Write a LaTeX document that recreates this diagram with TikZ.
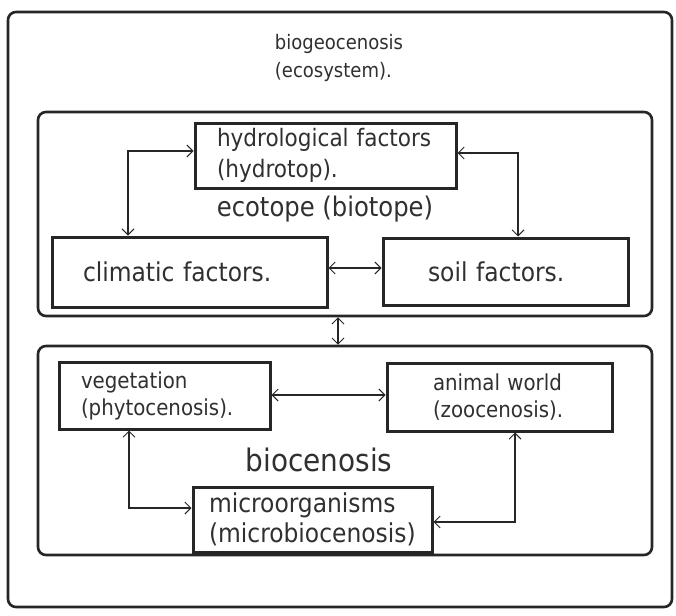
\documentclass[tikz,border=0pt]{standalone}
\usepackage{fontspec}
\setmainfont{DejaVu Sans Condensed}
\usetikzlibrary{arrows.meta}
\definecolor{ink}{HTML}{262626}
\definecolor{txt}{HTML}{303030}
\begin{document}
\begin{tikzpicture}[x=1pt,y=-1pt,
  frame/.style={draw=ink, line width=2.6pt, rounded corners=8pt, inner sep=0pt},
  box/.style={draw=ink, line width=3pt, fill=white, inner ysep=0pt, align=left, text=txt},
  tip/.tip={Straight Barb[length=6pt,width=12pt,line width=1pt]},
  conn/.style={draw=ink, line width=2pt, tip-tip}
]
\useasboundingbox (0,0) rectangle (676,615);
\fill[white] (0,0) rectangle (676,615);

% enclosing frames
\node[frame, minimum width=664pt, minimum height=595pt] (sys) at (340,309.5) {};
\node[frame, minimum width=614pt, minimum height=204pt] (eco) at (345,214) {};
\node[frame, minimum width=614pt, minimum height=209pt] (bio) at (345,450.5) {};

% titles
\node[text=txt, align=left, font=\fontsize{20}{28}\selectfont] (title) at (339,58) {biogeocenosis\\(ecosystem).};
\node[text=txt, font=\fontsize{27}{30}\selectfont] (ecolabel) at (325,209) {ecotope (biotope)};
\node[text=txt, font=\fontsize{31}{34}\selectfont] (biolabel) at (319,460) {biocenosis};

% ecotope components
\node[box, font=\fontsize{24}{31}\selectfont, inner xsep=22pt, text width=217pt, minimum height=65pt]
  (hyd) at (325.5,155.5) {hydrological factors\\(hydrotop).};
\node[box, font=\fontsize{26}{30}\selectfont, inner xsep=31pt, text width=213pt, minimum height=70pt]
  (clim) at (189.5,272) {climatic factors.};
\node[box, font=\fontsize{26}{30}\selectfont, inner xsep=45pt, text width=155pt, minimum height=67pt]
  (soil) at (505.5,271.5) {soil factors.};

% biocenosis components
\node[box, font=\fontsize{22}{27}\selectfont, inner xsep=22pt, text width=167pt, minimum height=67pt]
  (veg) at (164.5,395.5) {vegetation\\(phytocenosis).};
\node[box, font=\fontsize{22}{27}\selectfont, inner xsep=46pt, text width=133pt, minimum height=68pt]
  (anim) at (499.5,397) {animal world\\(zoocenosis).};
\node[box, font=\fontsize{26}{30}\selectfont, inner xsep=16pt, text width=207pt, minimum height=65pt]
  (micro) at (312.5,519.5) {microorganisms\\(microbiocenosis)};

% links
\draw[conn] (hyd.west |- 0,151) -| (clim.north -| 128,0);
\draw[conn] (hyd.east |- 0,153) -| (soil.north -| 518,0);
\draw[conn] (clim.east |- 0,268) -- (soil.west |- 0,268);
\draw[conn] (eco.south -| 338,0) -- (bio.north -| 338,0);
\draw[conn] (veg.east |- 0,395) -- (anim.west |- 0,395);
\draw[conn] (veg.south -| 129,0) |- (micro.west |- 0,508);
\draw[conn] (anim.south -| 515,0) |- (micro.east |- 0,522);
\end{tikzpicture}
\end{document}
